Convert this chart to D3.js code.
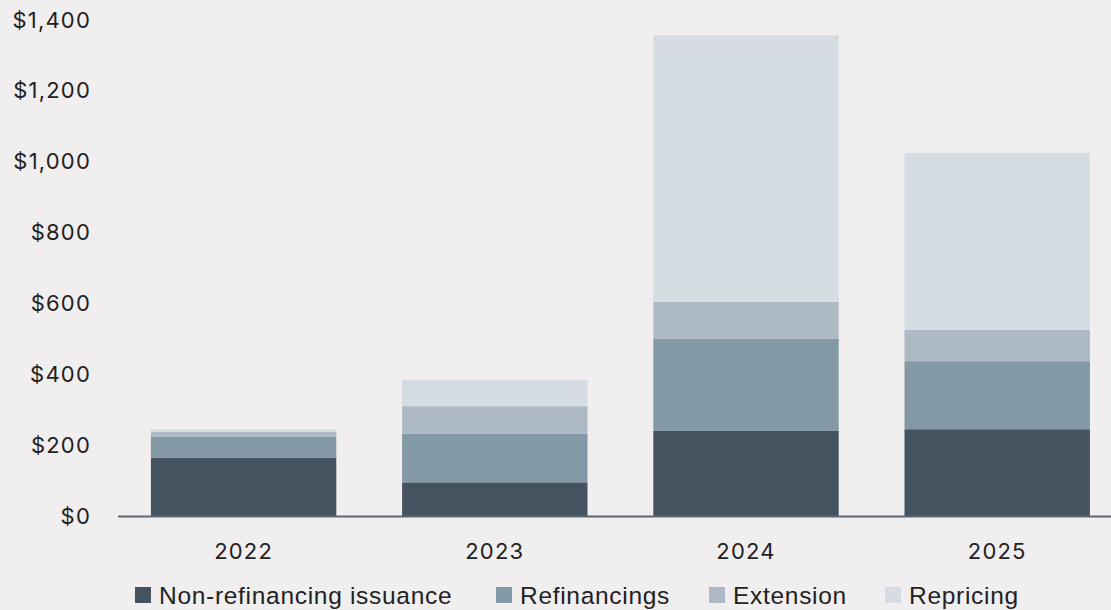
<!DOCTYPE html>
<html>
<head>
<meta charset="utf-8">
<script src="https://cdn.jsdelivr.net/npm/d3@7"></script>
<style>
  body { margin: 0; background: #f0eeef; }
  svg { display: block; }
  .tick text { font-family: Inter, "Open Sans", sans-serif; font-size: 22px; fill: #222; letter-spacing: 1.2px; }
  .legend text { font-family: "Liberation Sans", Arial, sans-serif; font-size: 24.5px; fill: #222; letter-spacing: 0.7px; }
</style>
</head>
<body>
<div id="chart"></div>
<script>
// chart data
var years = ["2022", "2023", "2024", "2025"];
var seriesNames = ["Non-refinancing issuance", "Refinancings", "Extension", "Repricing"];
var nonRefi = [164, 95, 240, 245];
var refinancings = [59, 137, 260, 192];
var extension = [15, 78, 104, 88];
var repricing = [7, 74, 753, 500];
var yTicks = [0, 200, 400, 600, 800, 1000, 1200, 1400];

var colors = ["#44535f", "#8399a5", "#adb9c4", "#d5dce2"];

var width = 1111, height = 610;
var margin = {top: 20, bottom: 94, left: 118};

var svg = d3.select("#chart").append("svg")
    .attr("width", width)
    .attr("height", height);

var rows = years.map(function(y, i) {
  return {year: y, "Non-refinancing issuance": nonRefi[i], "Refinancings": refinancings[i],
          "Extension": extension[i], "Repricing": repricing[i]};
});

var stack = d3.stack().keys(seriesNames);
var layers = stack(rows);

var x = d3.scaleBand()
    .domain(years)
    .range([margin.left, margin.left + 4 * 251.2])
    .paddingInner(0.262)
    .paddingOuter(0.131);

var y = d3.scaleLinear()
    .domain([0, 1400])
    .range([height - margin.bottom, margin.top]);

var color = d3.scaleOrdinal().domain(seriesNames).range(colors);

svg.append("g")
  .selectAll("g")
  .data(layers)
  .enter().append("g")
    .attr("fill", function(d) { return color(d.key); })
  .selectAll("rect")
  .data(function(d) { return d; })
  .enter().append("rect")
    .attr("x", function(d) { return x(d.data.year); })
    .attr("y", function(d) { return y(d[1]); })
    .attr("height", function(d) { return y(d[0]) - y(d[1]); })
    .attr("width", x.bandwidth());

// y axis, labels only
var yAxis = svg.append("g")
    .attr("transform", "translate(91,0)")
    .call(d3.axisLeft(y).tickValues(yTicks).tickSize(0).tickPadding(0)
      .tickFormat(function(d) { return "$" + d3.format(",")(d); }));
yAxis.select(".domain").remove();
yAxis.selectAll("text").attr("dy", "0.32em");

// x axis
var xAxis = svg.append("g")
    .attr("transform", "translate(0," + y(0) + ")")
    .call(d3.axisBottom(x).tickSize(0).tickPadding(27));
xAxis.select(".domain").remove();
xAxis.selectAll("text").attr("dy", "0.71em");

svg.append("line")
    .attr("x1", margin.left).attr("x2", width)
    .attr("y1", y(0) + 0.5).attr("y2", y(0) + 0.5)
    .attr("stroke", "#5b6771").attr("stroke-width", 2);

// legend
var legendX = [135, 496, 709, 885];
var legend = svg.append("g").attr("class", "legend")
  .selectAll("g")
  .data(seriesNames)
  .enter().append("g")
    .attr("transform", function(d, i) { return "translate(" + legendX[i] + ",587)"; });

legend.append("rect")
    .attr("width", 16).attr("height", 16)
    .attr("fill", function(d) { return color(d); });

legend.append("text")
    .attr("x", 24).attr("y", 8).attr("dy", "0.36em")
    .text(function(d) { return d; });
</script>
</body>
</html>
